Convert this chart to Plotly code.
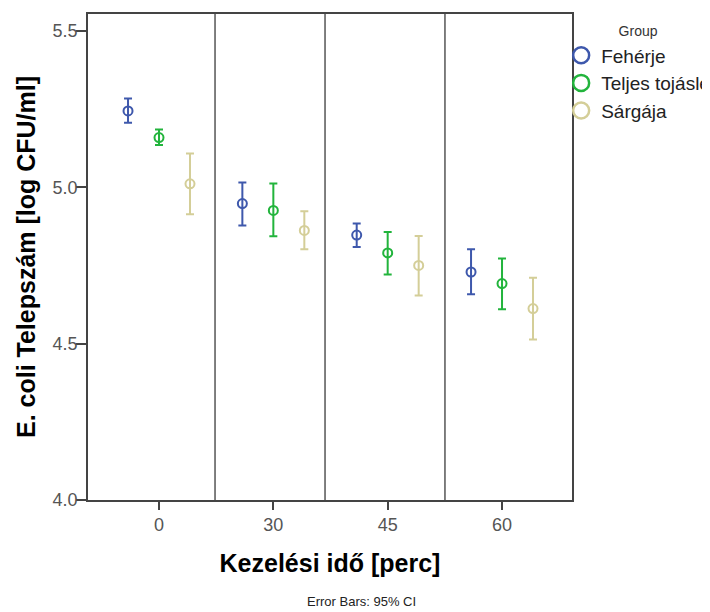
import plotly.graph_objects as go

# Data
time_labels = ["0", "30", "45", "60"]
groups = ["Fehérje", "Teljes tojáslé", "Sárgája"]
colors = ["#3E58AC", "#22B43C", "#D4CE98"]

mean_feherje = [5.244, 4.948, 4.847, 4.729]
lo_feherje = [5.206, 4.878, 4.809, 4.658]
hi_feherje = [5.284, 5.015, 4.884, 4.802]

mean_teljes = [5.159, 4.926, 4.790, 4.692]
lo_teljes = [5.135, 4.843, 4.721, 4.610]
hi_teljes = [5.185, 5.012, 4.857, 4.772]

mean_sargaja = [5.011, 4.862, 4.750, 4.612]
lo_sargaja = [4.914, 4.802, 4.654, 4.513]
hi_sargaja = [5.108, 4.923, 4.844, 4.711]

means = [mean_feherje, mean_teljes, mean_sargaja]
los = [lo_feherje, lo_teljes, lo_sargaja]
his = [hi_feherje, hi_teljes, hi_sargaja]

offsets = [-0.271, 0.0, 0.271]
separators = [0.49, 1.452, 2.501]

FONT = "Liberation Sans, Arial, sans-serif"

fig = go.Figure()
idx = list(range(len(time_labels)))
for g, name in enumerate(groups):
    xs = [i + offsets[g] for i in idx]
    m = means[g]
    fig.add_trace(go.Scatter(
        x=xs, y=m, mode="markers", name=name, showlegend=False,
        marker=dict(symbol="circle-open", size=9, color=colors[g], line=dict(width=2, color=colors[g])),
        error_y=dict(type="data", symmetric=False,
                     array=[h - v for h, v in zip(his[g], m)],
                     arrayminus=[v - l for l, v in zip(los[g], m)],
                     color=colors[g], thickness=2, width=4),
    ))
    # legend entry
    fig.add_trace(go.Scatter(
        x=[None], y=[None], mode="markers", name=name, showlegend=True,
        marker=dict(symbol="circle-open", size=16, color=colors[g], line=dict(width=2.5, color=colors[g])),
    ))

shapes = []
for s in separators:
    shapes.append(dict(type="line", xref="x", yref="paper", x0=s, x1=s, y0=0, y1=1,
                       line=dict(color="black", width=1)))

fig.update_layout(
    width=702, height=604,
    margin=dict(l=80, r=138, t=6, b=112, autoexpand=False),
    paper_bgcolor="white", plot_bgcolor="white",
    font=dict(family=FONT, color="#222"),
    shapes=shapes,
    showlegend=True,
    legend=dict(x=0.9776, xanchor="left", y=0.9915, yanchor="top",
                title=dict(text="Group", font=dict(size=14, color="#333"), side="top center"),
                font=dict(size=19, color="#222"),
                itemwidth=30, tracegroupgap=0, borderwidth=0,
                bgcolor="rgba(0,0,0,0)"),
    xaxis=dict(range=[-0.621, 3.612], tickmode="array", tickvals=idx, ticktext=time_labels,
               automargin=False,
               showgrid=False, zeroline=False, showline=True, linecolor="#444", linewidth=1.5,
               mirror=True, ticks="outside", ticklen=8, tickcolor="#444", tickwidth=1.5,
               tickfont=dict(size=18, color="#555", family=FONT),
               title=dict(text="<b>Kezelési idő [perc]</b>", font=dict(size=25, color="black", family=FONT), standoff=20)),
    yaxis=dict(range=[4.0, 5.554], tickvals=[4.0, 4.5, 5.0, 5.5], ticktext=["4.0", "4.5", "5.0", "5.5"],
               automargin=False,
               showgrid=False, zeroline=False, showline=True, linecolor="#444", linewidth=1.5,
               mirror=True, ticks="outside", ticklen=10, tickcolor="#444", tickwidth=1.5,
               ticklabelstandoff=-5,
               tickfont=dict(size=18, color="#555", family=FONT),
               title=dict(text="<b>E. coli Telepszám [log CFU/ml]</b>", font=dict(size=25, color="black", family=FONT), standoff=10)),
    annotations=[dict(text="Error Bars: 95% CI", xref="paper", yref="paper", x=0.566, y=-0.208,
                      xanchor="center", yanchor="middle", showarrow=False,
                      font=dict(size=13, color="#222", family=FONT))],
)

fig.write_html("out.html")
